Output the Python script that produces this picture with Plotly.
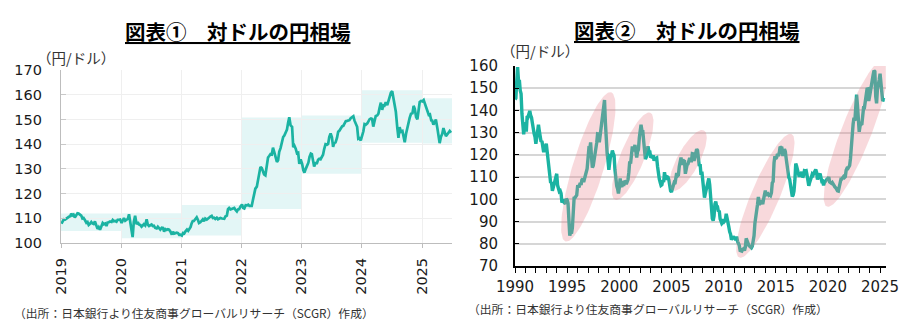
import numpy as np
import pandas as pd
import plotly.graph_objects as go

W, H = 922, 327

# ---------------- Chart 1: USD/JPY 2019 - mid 2025 (4 readings per month) ----------------
jpy_2019 = [107.8, 108.5, 109.6, 109.5, 109.9, 110.5, 110.6, 110.8, 111.9, 111.2, 111.5, 110.3,
            111.5, 112.0, 111.9, 111.5, 111.1, 109.9, 110.1, 109.3, 108.2, 108.5, 107.3, 107.8,
            108.5, 107.9, 107.7, 108.7, 106.6, 105.7, 106.4, 105.4, 106.9, 108.1, 107.6, 107.9,
            106.9, 108.3, 108.4, 108.7, 108.5, 109.3, 108.8, 108.9, 108.6, 109.4, 109.4, 109.5]
jpy_2020 = [108.1, 109.5, 110.1, 109.0, 109.7, 109.8, 111.6, 108.1, 105.4, 102.4, 108.5, 111.0,
            107.6, 108.4, 107.5, 107.3, 106.6, 107.1, 107.6, 107.1, 109.6, 107.4, 106.9, 107.2,
            107.5, 106.9, 107.0, 106.1, 105.9, 106.6, 105.8, 105.4, 106.2, 106.1, 104.6, 105.6,
            105.3, 105.6, 105.4, 104.7, 103.4, 104.6, 103.8, 104.1, 104.2, 104.0, 103.3, 103.4]
jpy_2021 = [103.0, 104.0, 103.8, 104.7, 105.4, 104.9, 105.7, 106.5, 107.9, 108.9, 108.9, 109.7,
            110.4, 109.4, 108.1, 108.4, 109.3, 109.6, 108.8, 109.9, 109.5, 109.7, 110.2, 110.7,
            111.0, 110.1, 110.2, 109.7, 110.2, 109.6, 109.8, 110.1, 109.9, 109.9, 109.8, 110.8,
            111.1, 113.7, 114.2, 113.6, 113.8, 114.0, 114.2, 113.4, 112.8, 113.6, 113.7, 114.8]
jpy_2022 = [115.6, 114.2, 114.0, 115.3, 115.2, 115.5, 115.0, 115.0, 115.0, 117.3, 119.2, 122.0,
            122.8, 125.6, 128.2, 130.8, 130.3, 129.2, 127.8, 127.4, 130.9, 134.6, 135.2, 136.0,
            135.8, 138.6, 137.0, 134.6, 132.8, 133.5, 136.9, 138.4, 141.4, 142.9, 143.5, 144.7,
            145.9, 148.7, 150.9, 147.6, 147.0, 138.8, 139.4, 138.2, 136.3, 136.5, 132.0, 133.8]
jpy_2023 = [132.0, 129.5, 128.5, 130.0, 131.2, 132.5, 134.8, 136.2, 136.0, 133.2, 131.0, 132.3,
            132.3, 133.7, 134.1, 133.9, 134.9, 135.7, 138.0, 140.0, 139.8, 140.1, 142.9, 144.3,
            142.8, 138.9, 140.4, 140.7, 142.6, 145.0, 145.4, 146.4, 147.2, 147.4, 148.4, 149.3,
            149.4, 149.5, 149.7, 150.5, 150.8, 151.3, 149.5, 147.9, 147.0, 142.2, 142.4, 141.5]
jpy_2024 = [143.5, 145.2, 148.1, 147.9, 148.4, 149.3, 150.1, 150.4, 150.2, 147.1, 149.0, 151.4,
            151.6, 152.3, 154.6, 156.8, 153.9, 155.7, 155.6, 157.0, 155.8, 157.4, 158.5, 160.8,
            161.4, 158.2, 156.1, 153.1, 146.5, 142.5, 146.9, 145.0, 145.3, 142.5, 140.8, 144.2,
            146.9, 149.1, 150.6, 152.3, 152.5, 155.5, 154.3, 151.0, 150.0, 153.6, 157.1, 157.5]
jpy_2025 = [157.3, 157.8, 156.5, 155.2, 152.8, 151.8, 152.0, 149.6, 149.5, 147.9, 148.7, 150.0,
            146.5, 143.5, 140.4, 143.0, 144.2, 146.5, 145.1, 143.2, 144.0, 144.5, 145.3, 144.6]
jpy_recent = jpy_2019 + jpy_2020 + jpy_2021 + jpy_2022 + jpy_2023 + jpy_2024 + jpy_2025

# yearly trading ranges (shaded boxes)
range_years = [2019, 2020, 2021, 2022, 2023, 2024, 2025]
range_low = [104.9, 101.9, 103.0, 113.8, 128.0, 140.6, 140.3]
range_high = [111.9, 112.0, 115.4, 150.8, 151.6, 161.8, 158.6]

# ---------------- Chart 2: USD/JPY monthly 1990 - 2025 ----------------
jpy_monthly = [
    145.0, 145.5, 153.0, 159.5, 153.5, 153.8, 149.0, 147.5, 138.4, 129.6, 129.2, 133.9,  # 1990
    133.7, 130.5, 137.4, 137.1, 138.2, 139.8, 137.8, 136.8, 134.3, 130.8, 129.6, 128.1,  # 1991
    125.0, 127.7, 132.8, 133.6, 130.7, 126.8, 125.9, 126.3, 122.6, 121.2, 123.9, 123.9,  # 1992
    125.0, 120.8, 117.0, 112.4, 110.3, 107.4, 107.7, 103.8, 105.3, 106.9, 107.9, 109.7,  # 1993
    111.5, 106.3, 105.1, 103.5, 103.8, 102.7, 98.5, 99.9, 98.8, 98.4, 98.0, 100.2,       # 1994
    99.8, 98.2, 90.8, 83.7, 85.1, 84.6, 87.2, 94.6, 100.6, 100.7, 101.9, 101.9,          # 1995
    105.8, 105.8, 105.9, 107.4, 106.5, 108.8, 109.2, 107.8, 109.8, 112.3, 112.3, 113.8,  # 1996
    118.0, 122.9, 122.7, 125.6, 119.1, 114.3, 115.1, 117.9, 120.9, 121.1, 125.4, 129.5,  # 1997
    129.4, 125.7, 129.0, 131.8, 135.0, 140.3, 140.7, 144.7, 134.5, 121.0, 120.6, 117.4,  # 1998
    113.3, 116.7, 119.7, 119.7, 122.0, 120.7, 119.7, 113.3, 107.4, 106.0, 104.8, 102.6,  # 1999
    105.2, 109.4, 106.3, 105.6, 108.3, 106.1, 107.9, 108.0, 106.8, 108.4, 108.9, 112.2,  # 2000
    117.1, 116.1, 121.2, 123.8, 122.3, 122.2, 124.5, 121.5, 118.8, 121.5, 122.4, 127.6,  # 2001
    132.7, 133.6, 131.1, 130.8, 126.4, 123.3, 118.1, 119.0, 120.5, 123.9, 121.6, 121.9,  # 2002
    118.8, 119.3, 118.6, 119.8, 117.4, 118.3, 118.7, 118.7, 114.8, 109.5, 109.2, 107.7,  # 2003
    106.3, 106.6, 108.5, 107.7, 112.2, 109.4, 109.4, 110.2, 110.0, 108.8, 104.7, 103.8,  # 2004
    103.3, 104.9, 105.3, 107.3, 106.9, 108.6, 111.9, 110.6, 111.0, 114.8, 118.5, 118.8,  # 2005
    115.5, 117.9, 117.3, 117.1, 111.5, 114.5, 115.6, 115.9, 117.1, 118.6, 117.3, 117.3,  # 2006
    120.6, 120.5, 117.3, 118.8, 120.8, 122.6, 122.0, 116.7, 115.0, 115.8, 111.0, 112.4,  # 2007
    107.7, 107.1, 100.8, 102.7, 104.4, 106.9, 106.9, 109.4, 106.6, 100.1, 96.9, 91.3,    # 2008
    90.4, 92.5, 97.9, 99.0, 96.6, 96.6, 94.5, 94.9, 91.2, 90.3, 89.1, 89.5,              # 2009
    91.1, 90.2, 90.7, 93.5, 91.8, 90.9, 87.6, 85.4, 84.3, 81.8, 82.6, 83.3,              # 2010
    82.6, 82.6, 81.6, 83.2, 81.1, 80.5, 79.3, 77.0, 76.8, 76.7, 77.5, 77.8,              # 2011
    76.9, 78.5, 82.4, 81.4, 79.7, 79.3, 78.9, 78.7, 78.2, 78.9, 80.8, 83.6,              # 2012
    89.2, 93.2, 94.8, 97.7, 101.1, 97.3, 99.7, 97.8, 99.3, 97.8, 100.1, 103.5,           # 2013
    103.9, 102.1, 102.3, 102.5, 101.8, 102.1, 101.7, 102.9, 107.4, 108.0, 116.4, 119.4,  # 2014
    118.3, 118.8, 120.4, 119.5, 120.8, 123.7, 123.3, 123.2, 120.1, 120.1, 122.6, 121.6,  # 2015
    118.3, 115.0, 113.0, 109.8, 109.0, 105.5, 103.9, 101.3, 101.9, 103.8, 108.6, 116.1,  # 2016
    114.9, 113.1, 113.0, 110.1, 112.2, 110.9, 112.4, 109.8, 110.8, 112.9, 112.8, 112.9,  # 2017
    110.9, 107.8, 106.1, 107.6, 109.7, 110.1, 111.4, 111.0, 111.9, 112.8, 113.4, 112.1,  # 2018
    108.9, 110.4, 111.2, 111.6, 109.8, 108.1, 108.2, 106.3, 107.5, 108.1, 108.8, 109.1,  # 2019
    109.3, 110.0, 107.8, 107.6, 107.2, 107.6, 106.7, 106.0, 105.6, 105.2, 104.4, 103.8,  # 2020
    103.7, 105.4, 108.7, 109.1, 109.1, 110.1, 110.2, 109.8, 110.2, 113.1, 114.0, 113.9,  # 2021
    114.8, 115.2, 118.5, 126.3, 128.9, 133.9, 136.7, 135.3, 143.1, 147.1, 142.4, 134.8,  # 2022
    130.4, 133.0, 133.8, 133.5, 137.1, 141.2, 141.2, 144.7, 147.9, 149.6, 149.7, 144.3,  # 2023
    146.4, 149.5, 149.8, 153.6, 155.9, 157.9, 157.5, 146.3, 143.2, 149.8, 153.5, 153.7,  # 2024
    156.5, 152.0, 149.1, 144.2, 144.9, 144.6,                                            # 2025
]

# highlighted phases (ellipses): centre (year, yen), half-lengths in px, tilt in degrees
ell_cx = [1997.03, 2001.28, 2006.59, 2014.0, 2022.71]
ell_cy = [114.6, 119.4, 117.5, 101.6, 130.2]
ell_a = [78, 47, 34, 67, 80]
ell_b = [15.5, 12, 11, 14, 15]
ell_ang = [73, 68, 62, 67, 68.5]

title1 = "図表①　対ドルの円相場"
title2 = "図表②　対ドルの円相場"
unit_label = "（円/ドル）"
source_text = "（出所：日本銀行より住友商事グローバルリサーチ（SCGR）作成）"

# ---------------- layout geometry ----------------
L_X0, L_X1, L_Y0, L_Y1 = 61, 452, 70, 243
R_X0, R_X1, R_Y0, R_Y1 = 515, 885.8, 66, 266
R_XRANGE = [1990, 2025.55]
R_YRANGE = [70, 160]

teal = "#1bb3a2"
txt = "#1a1a1a"
num_font = "DejaVu Sans"
jp_font = "Noto Sans CJK JP"

fig = go.Figure()

# left line
months = pd.date_range("2019-01-01", periods=len(jpy_recent) // 4, freq="MS")
left_dates = [m + pd.Timedelta(days=d) for m in months for d in (3, 10, 17, 25)]
fig.add_trace(go.Scatter(x=left_dates, y=jpy_recent, mode="lines",
                         line=dict(color=teal, width=2.7), xaxis="x", yaxis="y",
                         hoverinfo="skip", showlegend=False))

# yearly range boxes
for yr, lo, hi in zip(range_years, range_low, range_high):
    x1 = f"{yr + 1}-01-01" if yr < 2025 else "2025-07-02"
    fig.add_shape(type="rect", xref="x", yref="y", x0=f"{yr}-01-01", x1=x1, y0=lo, y1=hi,
                  fillcolor="#e3f6f6", line=dict(width=0), layer="below")

# right line
right_x = [1990 + i / 12 for i in range(len(jpy_monthly))]
fig.add_trace(go.Scatter(x=right_x, y=jpy_monthly, mode="lines",
                         line=dict(color=teal, width=3.4), xaxis="x2", yaxis="y2",
                         hoverinfo="skip", showlegend=False))

# ellipses (on top, translucent)
px_per_x = (R_X1 - R_X0) / (R_XRANGE[1] - R_XRANGE[0])
px_per_y = (R_Y1 - R_Y0) / (R_YRANGE[1] - R_YRANGE[0])
t = np.linspace(0, 2 * np.pi, 120)
for cx, cy, a, b, ang in zip(ell_cx, ell_cy, ell_a, ell_b, ell_ang):
    th = np.deg2rad(ang)
    dx = a * np.cos(t) * np.cos(th) - b * np.sin(t) * np.sin(th)
    dy = a * np.cos(t) * np.sin(th) + b * np.sin(t) * np.cos(th)
    fig.add_trace(go.Scatter(x=cx + dx / px_per_x, y=cy + dy / px_per_y, mode="lines",
                             fill="toself", fillcolor="rgba(232,128,138,0.30)",
                             line=dict(width=0), xaxis="x2", yaxis="y2",
                             hoverinfo="skip", showlegend=False))

fig.update_layout(
    width=W, height=H, margin=dict(l=0, r=0, t=0, b=0, autoexpand=False),
    paper_bgcolor="white", plot_bgcolor="white",
    font=dict(family=num_font, size=14, color=txt),
    xaxis=dict(domain=[L_X0 / W, L_X1 / W], type="date",
               range=["2019-01-01", "2025-07-02"],
               tickvals=[f"{y}-01-01" for y in range(2019, 2026)],
               ticktext=[str(y) for y in range(2019, 2026)],
               tickangle=-90, tickfont=dict(size=14.5),
               showgrid=True, gridcolor="#efefef", gridwidth=1,
               showline=True, linecolor="#bdbdbd", linewidth=1.3,
               ticks="outside", ticklen=4, tickcolor="#bdbdbd",
               ticklabelstandoff=4, zeroline=False, anchor="y", automargin=False),
    yaxis=dict(domain=[1 - L_Y1 / H, 1 - L_Y0 / H], range=[100, 170], dtick=10,
               tickfont=dict(size=14.5),
               showgrid=True, gridcolor="#efefef", gridwidth=1,
               showline=True, linecolor="#bdbdbd", linewidth=1.3,
               ticks="inside", ticklen=5, tickcolor="#c8c8c8",
               ticklabelstandoff=15, zeroline=False, anchor="x", automargin=False),
    xaxis2=dict(domain=[R_X0 / W, R_X1 / W], range=R_XRANGE,
                tick0=1990, dtick=5, tickfont=dict(size=15),
                showgrid=False, showline=True, linecolor="black", linewidth=2,
                ticks="outside", ticklen=5, tickcolor="black", tickwidth=1.3,
                minor=dict(dtick=1, ticks="outside", ticklen=5, tickcolor="black",
                           tickwidth=1.3, showgrid=False),
                ticklabelstandoff=1, zeroline=False, anchor="y2", automargin=False),
    yaxis2=dict(domain=[1 - R_Y1 / H, 1 - R_Y0 / H], range=R_YRANGE, dtick=10,
                tickfont=dict(size=15),
                showgrid=True, gridcolor="#d6d6d6", gridwidth=1.5,
                showline=True, linecolor="black", linewidth=2,
                ticks="inside", ticklen=4, tickcolor="black",
                ticklabelstandoff=12, zeroline=False, anchor="x2", automargin=False),
)

ann = []
ann.append(dict(text=f"<b><u>{title1}</u></b>", x=238 / W, y=1 - 31 / H,
                font=dict(family=jp_font, size=20.5, color="black")))
ann.append(dict(text=f"<b><u>{title2}</u></b>", x=687 / W, y=1 - 30 / H,
                font=dict(family=jp_font, size=20.5, color="black")))
ann.append(dict(text=unit_label, x=76 / W, y=1 - 58 / H,
                font=dict(family=jp_font, size=14.5, color="#333333")))
ann.append(dict(text=unit_label, x=540 / W, y=1 - 50 / H,
                font=dict(family=jp_font, size=14.5, color="#333333")))
ann.append(dict(text=source_text, x=12 / W, y=1 - 312 / H, xanchor="left",
                font=dict(family=jp_font, size=11.8, color="#333333")))
ann.append(dict(text=source_text, x=466 / W, y=1 - 308 / H, xanchor="left",
                font=dict(family=jp_font, size=11.8, color="#333333")))
for a_ in ann:
    a_.setdefault("xanchor", "center")
    a_.update(xref="paper", yref="paper", yanchor="middle", showarrow=False)
fig.update_layout(annotations=ann)

fig.write_html("out.html", config={"displayModeBar": False})
